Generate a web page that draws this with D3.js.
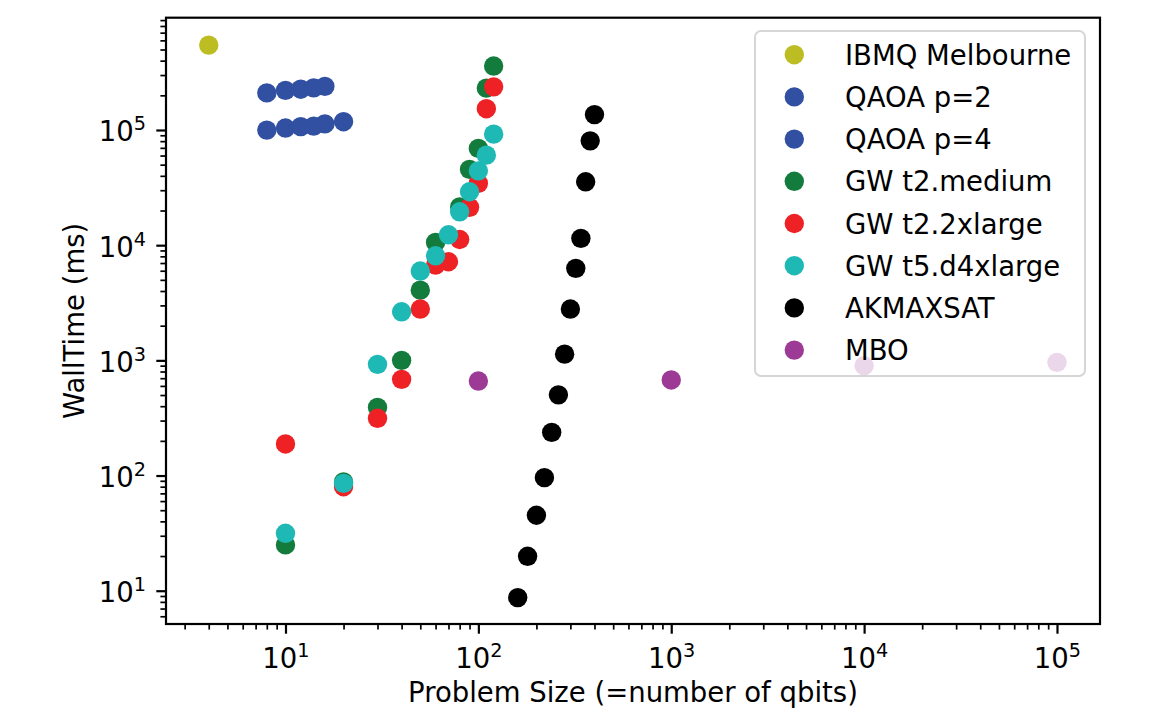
<!DOCTYPE html>
<html>
<head>
<meta charset="utf-8">
<script src="https://cdn.jsdelivr.net/npm/d3@7"></script>
<style>
  html, body { margin: 0; padding: 0; background: #fff; }
  svg { display: block; font-family: "DejaVu Sans", sans-serif; }
</style>
</head>
<body>
<svg id="chart" width="1149" height="714"></svg>
<script>
// ---------- data ----------
const seriesNames = ["IBMQ Melbourne", "QAOA p=2", "QAOA p=4", "GW t2.medium", "GW t2.2xlarge", "GW t5.d4xlarge", "AKMAXSAT", "MBO"];
const seriesColors = ["#bcbd22", "#3150a1", "#3150a1", "#137c3c", "#ee2125", "#1eb8b5", "#000000", "#9c3a96"];

const ibmqX = [4];
const ibmqY = [546000];

const qaoaP2X = [8, 10, 12, 14, 16, 20];
const qaoaP2Y = [99800, 104000, 107000, 108000, 113000, 118000];

const qaoaP4X = [8, 10, 12, 14, 16];
const qaoaP4Y = [210000, 221000, 226000, 232000, 239000];

const gwMediumX = [10, 20, 30, 40, 50, 60, 80, 90, 100, 110, 120];
const gwMediumY = [25, 88, 390, 1000, 4070, 10570, 21500, 45500, 69200, 231000, 359000];

const gw2xlX = [10, 20, 30, 40, 50, 60, 70, 80, 90, 100, 110, 120];
const gw2xlY = [188, 80, 314, 684, 2790, 6720, 7180, 11200, 21300, 34400, 153000, 237000];

const gw4xlX = [10, 20, 30, 40, 50, 60, 70, 80, 90, 100, 110, 120];
const gw4xlY = [31.5, 85.5, 923, 2640, 5960, 8090, 12300, 19500, 29100, 44200, 60500, 92000];

const akX = [160, 180, 200, 220, 240, 260, 280, 300, 320, 340, 360, 380, 400];
const akY = [8.71, 19.9, 45.2, 95.9, 237, 502, 1132, 2790, 6290, 11460, 35500, 80500, 136000];

const mboX = [100, 1000, 10000, 100000];
const mboY = [661, 676, 898, 961];

const xTickValues = [10, 100, 1000, 10000, 100000];
const xTickExponents = ["1", "2", "3", "4", "5"];
const yTickValues = [10, 100, 1000, 10000, 100000];
const yTickExponents = ["1", "2", "3", "4", "5"];

const xLabel = "Problem Size (=number of qbits)";
const yLabel = "WallTime (ms)";

const xDomain = [Math.pow(10, 0.3805), Math.pow(10, 5.223)];
const yDomain = [Math.pow(10, 0.711), Math.pow(10, 5.975)];

// ---------- layout ----------
const L = 166, R = 1100, T = 17.7, B = 624;
const FS = 27.5;
const svg = d3.select("#chart");

const x = d3.scaleLog().domain(xDomain).range([L, R]);
const y = d3.scaleLog().domain(yDomain).range([B, T]);

function minorTicks(domain) {
  const out = [];
  const lo = Math.floor(Math.log10(domain[0])), hi = Math.ceil(Math.log10(domain[1]));
  for (let e = lo; e <= hi; e++) {
    for (let m = 2; m <= 9; m++) {
      const v = m * Math.pow(10, e);
      if (v >= domain[0] && v <= domain[1]) out.push(v);
    }
  }
  return out;
}

// minor ticks
svg.append("g").attr("transform", `translate(0,${B})`)
  .call(d3.axisBottom(x).tickValues(minorTicks(xDomain)).tickSize(5.6).tickFormat(""))
  .call(g => g.select(".domain").remove())
  .call(g => g.selectAll("line").attr("stroke", "#000").attr("stroke-width", 1.7));
svg.append("g").attr("transform", `translate(${L},0)`)
  .call(d3.axisLeft(y).tickValues(minorTicks(yDomain)).tickSize(5.6).tickFormat(""))
  .call(g => g.select(".domain").remove())
  .call(g => g.selectAll("line").attr("stroke", "#000").attr("stroke-width", 1.7));

// major x axis
const xAxisG = svg.append("g").attr("transform", `translate(0,${B})`)
  .call(d3.axisBottom(x).tickValues(xTickValues).tickSize(9.7).tickPadding(0).tickFormat(""))
  .call(g => g.select(".domain").remove())
  .call(g => g.selectAll("line").attr("stroke", "#000").attr("stroke-width", 2.2));
xAxisG.selectAll(".tick text").each(function(d, i) {
  const t = d3.select(this);
  t.attr("y", 44).attr("dy", null).attr("font-size", FS).attr("fill", "#000")
   .attr("font-family", "DejaVu Sans").attr("text-anchor", "middle");
  t.append("tspan").text("10");
  t.append("tspan").attr("dy", -11).attr("font-size", FS * 0.7).text(xTickExponents[i]);
});

// major y axis
const yAxisG = svg.append("g").attr("transform", `translate(${L},0)`)
  .call(d3.axisLeft(y).tickValues(yTickValues).tickSize(9.7).tickPadding(0).tickFormat(""))
  .call(g => g.select(".domain").remove())
  .call(g => g.selectAll("line").attr("stroke", "#000").attr("stroke-width", 2.2));
yAxisG.selectAll(".tick text").each(function(d, i) {
  const t = d3.select(this);
  t.attr("x", -20).attr("y", 11).attr("dy", null).attr("font-size", FS).attr("fill", "#000")
   .attr("font-family", "DejaVu Sans").attr("text-anchor", "end");
  t.append("tspan").text("10");
  t.append("tspan").attr("dy", -11).attr("font-size", FS * 0.7).text(yTickExponents[i]);
});

// axis labels
svg.append("text").attr("x", (L + R) / 2).attr("y", 702)
  .attr("text-anchor", "middle").attr("font-size", FS).attr("fill", "#000").text(xLabel);
svg.append("text").attr("transform", `translate(84,${(T + B) / 2}) rotate(-90)`)
  .attr("text-anchor", "middle").attr("font-size", FS).attr("fill", "#000").text(yLabel);

// data
const seriesX = [ibmqX, qaoaP2X, qaoaP4X, gwMediumX, gw2xlX, gw4xlX, akX, mboX];
const seriesY = [ibmqY, qaoaP2Y, qaoaP4Y, gwMediumY, gw2xlY, gw4xlY, akY, mboY];
const R_MARK = 9.7;
const plotG = svg.append("g");
seriesNames.forEach((name, si) => {
  const pts = seriesX[si].map((xv, j) => [xv, seriesY[si][j]]);
  plotG.append("g").selectAll("circle").data(pts).join("circle")
    .attr("cx", d => x(d[0])).attr("cy", d => y(d[1]))
    .attr("r", R_MARK).attr("fill", seriesColors[si]);
});

// frame
svg.append("rect").attr("x", L).attr("y", T).attr("width", R - L).attr("height", B - T)
  .attr("fill", "none").attr("stroke", "#000").attr("stroke-width", 2.2);

// legend
const lg = svg.append("g");
lg.append("rect").attr("x", 755).attr("y", 31).attr("width", 330).attr("height", 345)
  .attr("rx", 6).attr("fill", "#fff").attr("fill-opacity", 0.8)
  .attr("stroke", "#cccccc").attr("stroke-opacity", 0.8).attr("stroke-width", 2);
seriesNames.forEach((name, i) => {
  const cy = 54.7 + i * 42.2;
  lg.append("circle").attr("cx", 794.3).attr("cy", cy).attr("r", R_MARK).attr("fill", seriesColors[i]);
  lg.append("text").attr("x", 845).attr("y", cy + 10).attr("font-size", FS).attr("fill", "#000").text(name);
});
</script>
</body>
</html>
